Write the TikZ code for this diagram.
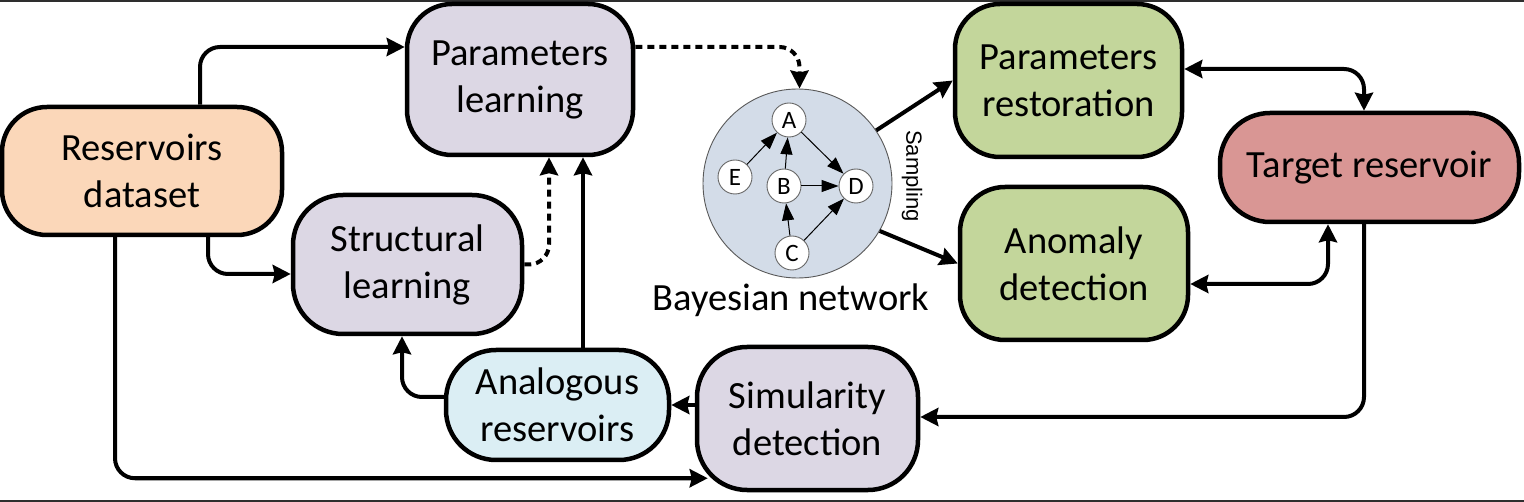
\documentclass[tikz,border=0pt]{standalone}
\usepackage{fontspec}
\setmainfont{Carlito}
\newfontfamily\arialfont{Liberation Sans}
\usetikzlibrary{arrows.meta,calc}
\definecolor{cpeach}{HTML}{FBD7B9}
\definecolor{clav}{HTML}{DCD7E4}
\definecolor{cblue}{HTML}{DBEEF4}
\definecolor{cgreen}{HTML}{C3D69B}
\definecolor{cred}{HTML}{D99694}
\definecolor{cbn}{HTML}{D3DCE8}
\definecolor{cframe}{HTML}{2E2E2E}
\begin{document}
\begin{tikzpicture}[x=1pt,y=-1pt,
  box/.style={draw=black, line width=4.5pt, rounded corners=45pt, align=center, inner sep=0pt,
              font=\fontsize{38.5}{47}\selectfont},
  arr/.style={line width=4pt, -{Stealth[length=18pt,width=18pt,inset=2pt]}, rounded corners=20pt},
  darr/.style={line width=4pt, {Stealth[length=18pt,width=18pt,inset=2pt]}-{Stealth[length=18pt,width=18pt,inset=2pt]}, rounded corners=20pt},
  dsh/.style={dash pattern=on 7pt off 5pt},
  bnnode/.style={circle, draw=gray!80!black, line width=0.9pt, fill=white, minimum size=34pt, inner sep=0pt,
                 font=\fontsize{25}{28}\selectfont},
  bnarr/.style={line width=1pt, -{Triangle[length=17pt,width=12pt]}},
]
\useasboundingbox (0,0) rectangle (1524,502);
\draw[cframe, line width=2pt] (0,1) -- (1524,1);
\draw[cframe, line width=2pt] (0,501) -- (1524,501);

% boxes
\node[box, fill=cpeach, minimum width=280pt, minimum height=128pt] (rd) at (142,171) {Reservoirs\\dataset};
\node[box, fill=clav, minimum width=226pt, minimum height=151pt] (pl) at (520,79.5) {Parameters\\learning};
\node[box, fill=clav, minimum width=229pt, minimum height=139pt, rounded corners=50pt] (sl) at (407.5,264.5) {Structural\\learning};
\node[box, fill=cblue, minimum width=223pt, minimum height=110pt, rounded corners=50pt] (ar) at (557.5,405) {Analogous\\reservoirs};
\node[box, fill=clav, minimum width=221pt, minimum height=143pt, rounded corners=50pt] (sd) at (807.5,418.5) {Simularity\\detection};
\node[box, fill=cgreen, minimum width=227pt, minimum height=153pt] (pr) at (1068.5,80.5) {Parameters\\restoration};
\node[box, fill=cgreen, minimum width=228pt, minimum height=153pt] (ad) at (1074,263.5) {Anomaly\\detection};
\node[box, fill=cred, minimum width=299pt, minimum height=109pt, rounded corners=50pt] (tr) at (1369.5,167.5) {Target reservoir};

% Bayesian network
\node[circle, draw=gray!70!black, line width=0.9pt, fill=cbn, minimum size=189pt, inner sep=0pt] (bn) at (797.5,183.5) {};
\node[bnnode] (A) at (789,120) {A};
\node[bnnode] (E) at (735,177) {E};
\node[bnnode] (B) at (784,186) {B};
\node[bnnode] (D) at (856,186) {D};
\node[bnnode] (C) at (792,253) {C};
\draw[bnarr] (E) -- (A);
\draw[bnarr] (B) -- (A);
\draw[bnarr] (A) -- (D);
\draw[bnarr] (B) -- (D);
\draw[bnarr] (C) -- (B);
\draw[bnarr] (C) -- (D);
\node[font=\fontsize{38.5}{47}\selectfont] (bnl) at (791,300) {Bayesian network};
\node[rotate=-90, font=\arialfont\fontsize{22}{26}\selectfont] (smp) at (912,176) {Sampling};

% connectors
\draw[arr] ([xshift=58pt]rd.north) |- ([yshift=32.5pt]pl.west);
\draw[arr] ([xshift=66pt]rd.south) |- ([yshift=-9.5pt]sl.west);
\coordinate (sdin) at ([xshift=13pt,yshift=14pt]sd.south west);
\draw[arr] ([xshift=-27pt]rd.south) |- (sdin);
\draw[arr, dsh] (sl.east) -| ([xshift=29pt]pl.south);
\coordinate (a5) at ([xshift=25.5pt]ar.north);
\draw[arr] (a5) -- (a5 |- pl.south);
\draw[arr] ([yshift=8pt]ar.west) -| ([xshift=-5.5pt]sl.south);
\draw[arr] ([yshift=13.5pt]sd.west) -- (ar.east);
\draw[arr] ([xshift=-5.5pt]tr.south) |- ([yshift=1.5pt]sd.east);
\draw[arr, dsh] ([yshift=32.5pt]pl.east) -| ([xshift=2pt]bn.north);
\draw[arr, rounded corners=0pt] (bn.34) -- (pr.west);
\draw[arr, rounded corners=0pt] (bn.-30) -- (ad.west);
\draw[darr] ([yshift=11.5pt]pr.east) -| ([xshift=-5.5pt]tr.north);
\draw[darr] ([yshift=-20.5pt]ad.east) -| ([xshift=-41.5pt]tr.south);
\end{tikzpicture}
\end{document}
